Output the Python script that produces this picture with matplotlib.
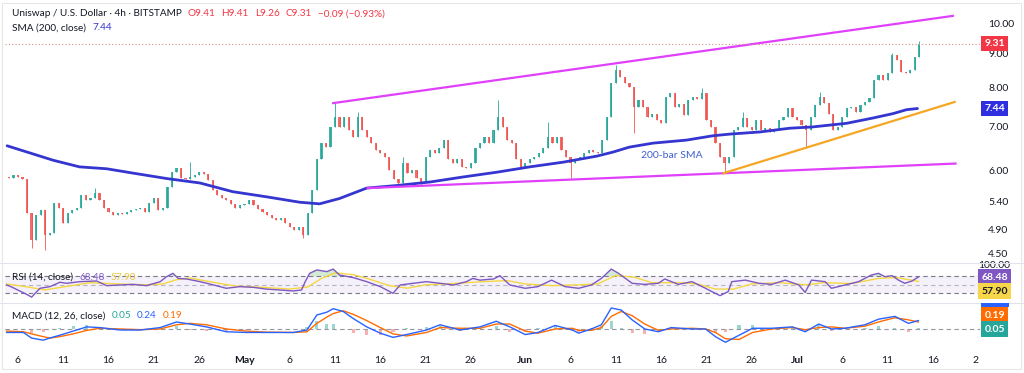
import numpy as np
import pandas as pd
import matplotlib
matplotlib.use("Agg")
import matplotlib.pyplot as plt
from matplotlib.patches import Rectangle
from matplotlib.lines import Line2D
from matplotlib.ticker import NullLocator, NullFormatter

plt.rcParams['font.family'] = ['Lato', 'DejaVu Sans']

# ---- data (4h UNI/USD chart, read by eye as 12h candles) ----
first_open = 5.88
closes = np.array([
    5.86, 5.91, 5.88, 5.84, 5.18, 4.72, 5.15, 5.24, 4.80, 4.84,
    5.36, 5.28, 5.00, 5.18, 5.24, 5.28, 5.52, 5.42, 5.45, 5.55,
    5.42, 5.28, 5.20, 5.15, 5.18, 5.17, 5.20, 5.24, 5.26, 5.28,
    5.20, 5.36, 5.45, 5.24, 5.28, 5.67, 5.98, 6.06, 5.86, 5.84,
    5.88, 5.91, 5.98, 5.93, 5.81, 5.62, 5.52, 5.45, 5.42, 5.35,
    5.28, 5.32, 5.35, 5.42, 5.32, 5.26, 5.20, 5.15, 5.09, 5.06,
    5.09, 5.00, 4.94, 4.89, 4.94, 4.80, 5.18, 5.61, 6.24, 6.60,
    6.52, 6.98, 7.22, 6.98, 7.22, 6.90, 6.74, 7.22, 6.90, 6.74,
    6.60, 6.45, 6.37, 6.30, 6.02, 5.84, 5.75, 6.17, 5.95, 6.02,
    5.86, 5.77, 6.30, 6.45, 6.37, 6.50, 6.67, 6.24, 6.17, 6.24,
    6.08, 6.05, 6.17, 6.50, 6.60, 6.74, 6.60, 6.90, 7.22, 6.98,
    6.67, 6.60, 6.24, 6.08, 6.17, 6.24, 6.30, 6.37, 6.50, 6.74,
    6.60, 6.74, 6.45, 6.30, 6.17, 6.24, 6.30, 6.37, 6.45, 6.40,
    6.37, 6.67, 7.22, 8.12, 8.50, 8.30, 8.12, 8.02, 7.48, 7.66,
    7.48, 7.22, 7.30, 7.15, 7.07, 7.74, 7.85, 7.48, 7.55, 7.27,
    7.66, 7.74, 7.70, 7.85, 7.15, 6.98, 6.60, 6.30, 6.17, 6.30,
    6.90, 6.98, 7.20, 6.98, 6.90, 7.15, 6.90, 6.95, 6.86, 6.94,
    7.15, 7.22, 7.45, 7.22, 7.15, 7.02, 6.90, 7.22, 7.53, 7.74,
    7.58, 7.30, 6.90, 6.98, 7.22, 7.45, 7.48, 7.35, 7.53, 7.62,
    7.72, 8.21, 8.35, 8.21, 8.41, 8.95, 8.80, 8.44, 8.41, 8.50,
    8.90, 9.31,
])
wick_highs = {19: 5.65, 40: 6.18, 72: 7.58, 77: 7.36, 87: 6.30, 108: 7.66,
              119: 7.10, 134: 8.65, 153: 8.00, 162: 7.36, 179: 7.89,
              195: 9.02, 201: 9.41}
wick_lows = {5: 4.60, 8: 4.56, 65: 4.76, 86: 5.70, 91: 5.72, 124: 5.85,
             138: 6.83, 158: 5.98, 176: 6.50}

# 200-bar SMA (day offsets from Apr 6)
sma_days = [-1.2, 1.0, 3.9, 6.8, 9.8, 12.7, 16.4, 20.1, 23.7, 27.5, 31.1, 33.3,
            35.5, 38.5, 41.8, 45.5, 49.1, 52.9, 56.5, 60.2, 63.9, 65.7, 67.5,
            70.1, 73.8, 76.7, 78.6, 81.9, 85.2, 87.7, 91.5, 94.4, 96.6, 98.1, 99.3]
sma_vals = [6.54, 6.40, 6.22, 6.08, 6.04, 5.95, 5.84, 5.75, 5.58, 5.48, 5.38, 5.35,
            5.45, 5.65, 5.70, 5.77, 5.87, 5.97, 6.08, 6.18, 6.31, 6.40, 6.51,
            6.60, 6.67, 6.77, 6.81, 6.86, 6.95, 6.98, 7.07, 7.20, 7.31, 7.41, 7.44]

# drawn trend lines (day, price)
upper_line = ([34.8, 103.2], [7.58, 10.25])
lower_line = ([38.6, 103.5], [5.65, 6.15])
support_line = ([77.9, 103.4], [5.95, 7.61])

# RSI
rsi_days = [-1.25, -0.78, 0.96, 1.51, 2.43, 3.53, 4.64, 5.37, 6.84, 8.68,
            9.79, 11.26, 12.7, 14.2, 15.7, 16.4, 17.1, 17.7, 18.6, 20.1,
            21.6, 23.0, 24.5, 26.0, 27.4, 28.9, 30.4, 31.3, 31.7, 32.2,
            33.0, 34.1, 34.8, 35.5, 37.0, 38.5, 40.0, 41.4, 42.2, 43.6,
            45.1, 46.6, 48.1, 49.5, 50.2, 51.0, 52.5, 53.2, 54.3, 56.0,
            57.4, 58.9, 60.4, 61.9, 63.3, 64.4, 65.5, 66.3, 67.8, 69.2,
            70.7, 71.4, 72.9, 74.4, 75.9, 76.6, 77.5, 78.4, 78.8, 80.3,
            81.8, 83.2, 84.7, 86.2, 86.9, 87.6, 89.1, 89.8, 91.3, 92.8,
            94.2, 95.0, 95.7, 96.5, 97.2, 97.9, 98.7, 99.4]
rsi_vals = [49.6, 45.7, 27.6, 21.0, 41.8, 45.7, 56.0, 53.5, 57.4, 59.0,
            48.0, 49.6, 51.0, 48.0, 57.4, 69.0, 77.0, 65.0, 63.7, 57.4,
            49.6, 41.8, 45.7, 44.0, 40.0, 37.8, 35.5, 37.8, 57.0, 77.0,
            85.0, 81.0, 87.0, 73.0, 67.0, 57.4, 45.7, 30.0, 49.6, 53.5,
            57.4, 53.5, 49.6, 57.4, 65.0, 61.0, 63.7, 71.5, 49.6, 41.8,
            45.7, 61.0, 45.7, 41.8, 49.6, 65.0, 87.0, 77.0, 53.5, 51.0,
            53.5, 63.7, 51.0, 57.4, 41.8, 34.0, 24.5, 34.0, 57.4, 61.0,
            53.5, 51.0, 61.0, 49.6, 32.0, 61.0, 57.4, 41.8, 49.6, 57.4,
            73.0, 77.0, 69.0, 71.5, 61.0, 53.5, 59.0, 68.48]
rsi_ma_days = [-1.25, 1, 3, 5, 8, 11, 14, 16, 17.5, 19,
               21, 24, 27, 30, 32, 33.5, 35, 37, 39, 41,
               43, 45, 48, 51, 54, 56, 59, 62, 64, 66,
               68, 70, 73, 75, 77, 79, 81, 84, 87, 89,
               92, 95, 97, 99.4]
rsi_ma_vals = [52, 45, 38, 45, 55, 52, 50, 52, 62, 66,
               58, 47, 44, 40, 45, 65, 78, 74, 62, 48,
               42, 50, 53, 57, 60, 52, 48, 50, 52, 72,
               68, 55, 55, 52, 40, 40, 52, 55, 50, 55,
               53, 65, 67, 57.9]

# MACD
macd_days = [-1.25, 0.6, 1.5, 2.8, 3.5, 4.6, 6.1, 7.6, 9.0, 11.3,
             13.5, 15.7, 17.5, 19.0, 20.8, 23.0, 25.2, 27.4, 30.4, 31.9,
             33.0, 34.1, 34.8, 35.9, 37.0, 38.5, 40.0, 41.4, 42.9, 45.1,
             46.6, 48.8, 51.0, 52.8, 54.3, 56.0, 57.4, 59.3, 61.2, 61.9,
             63.3, 64.4, 65.5, 66.6, 67.8, 69.2, 70.7, 72.1, 74.4, 75.9,
             77.0, 78.1, 79.6, 81.1, 83.2, 85.5, 86.9, 88.4, 89.8, 91.3,
             93.5, 95.0, 96.8, 98.3, 99.4]
macd_vals = [-0.05, -0.05, -0.13, -0.16, -0.13, -0.09, -0.03, 0.03, 0.02, -0.015,
             -0.015, 0.02, 0.10, 0.07, 0.03, -0.04, -0.05, -0.05, -0.05, -0.015,
             0.20, 0.24, 0.29, 0.25, 0.15, 0.03, -0.06, -0.12, -0.08, -0.015,
             0.06, -0.015, 0.03, 0.11, 0.03, -0.08, -0.05, 0.05, -0.015, -0.06,
             0.0, 0.06, 0.30, 0.27, 0.13, 0.0, -0.04, 0.02, 0.0, 0.0,
             -0.11, -0.19, -0.09, 0.01, 0.01, 0.03, -0.04, 0.07, 0.0, 0.01,
             0.06, 0.14, 0.18, 0.08, 0.12]
signal_vals = [-0.03, -0.04, -0.07, -0.11, -0.13, -0.11, -0.07, -0.02, 0.01, 0.0,
               -0.01, 0.0, 0.06, 0.08, 0.06, 0.0, -0.03, -0.045, -0.05, -0.04,
               0.08, 0.17, 0.22, 0.26, 0.21, 0.12, 0.02, -0.07, -0.10, -0.05,
               0.02, 0.01, 0.01, 0.07, 0.07, -0.03, -0.06, 0.0, 0.01, -0.02,
               -0.02, 0.02, 0.18, 0.25, 0.19, 0.07, -0.02, 0.0, 0.01, 0.0,
               -0.05, -0.14, -0.15, -0.05, 0.0, 0.02, -0.01, 0.02, 0.03, 0.01,
               0.04, 0.10, 0.16, 0.13, 0.10]

# x axis labels
start = pd.Timestamp('2024-04-06')
tick_dates = ['2024-04-06', '2024-04-11', '2024-04-16', '2024-04-21', '2024-04-26',
              '2024-05-01', '2024-05-06', '2024-05-11', '2024-05-16', '2024-05-21',
              '2024-05-26', '2024-06-01', '2024-06-06', '2024-06-11', '2024-06-16',
              '2024-06-21', '2024-06-26', '2024-07-01', '2024-07-06', '2024-07-11',
              '2024-07-16', '2024-07-21']
tick_labels = ['6', '11', '16', '21', '26', 'May', '6', '11', '16', '21', '26',
               'Jun', '6', '11', '16', '21', '26', 'Jul', '6', '11', '16', '21']
price_ticks = [4.5, 4.9, 5.4, 6.0, 7.0, 8.0, 9.0, 10.0]

# ---- figure ----
W, H = 1024, 373
fig = plt.figure(figsize=(W / 100, H / 100), dpi=100)
fig.patch.set_facecolor('white')
TXT = '#131722'
GRID = '#e0e3eb'


def rect(x0, y0, x1, y1):
    return [x0 / W, 1 - y1 / H, (x1 - x0) / W, (y1 - y0) / H]


def fx(px):
    return px / W


def fy(py):
    return 1 - py / H


ax = fig.add_axes(rect(5, 4, 980, 263))
ax_rsi = fig.add_axes(rect(5, 263, 980, 303), sharex=ax)
ax_macd = fig.add_axes(rect(5, 303, 980, 345), sharex=ax)

for a in (ax, ax_rsi, ax_macd):
    for s in a.spines.values():
        s.set_visible(False)
    a.tick_params(axis='both', length=0)
    a.set_yticks([])

ax.set_xlim(-1.43, 106.2)

# candles
n = len(closes)
cdays = -1 + 0.5 * np.arange(n)
opens = np.r_[first_open, closes[:-1]]
up = closes >= opens
ccol = np.where(up, '#26a69a', '#ef5350')
highs = np.maximum(opens, closes)
lows = np.minimum(opens, closes)
for i, v in wick_highs.items():
    highs[i] = v
for i, v in wick_lows.items():
    lows[i] = v
ax.vlines(cdays, lows, highs, colors=ccol, lw=0.7, alpha=0.85)
ax.bar(cdays, np.abs(closes - opens), bottom=np.minimum(opens, closes),
       width=0.24, color=ccol, linewidth=0, alpha=0.85)

ax.set_yscale('log')
ax.set_ylim(4.36, 10.68)
ax.yaxis.tick_right()
ax.yaxis.set_minor_locator(NullLocator())
ax.yaxis.set_minor_formatter(NullFormatter())
ax.set_yticks(price_ticks)
ax.set_yticklabels([f'{v:.2f}' for v in price_ticks])
ax.tick_params(axis='y', length=0, pad=6, labelsize=7.5, colors=TXT)
ax.tick_params(axis='x', labelbottom=False)

ax.plot(sma_days, sma_vals, color='#3535d0', lw=2.0, solid_capstyle='round')
ax.plot(*upper_line, color='#e040fb', lw=1.6)
ax.plot(*lower_line, color='#e040fb', lw=1.6)
ax.plot(*support_line, color='#f5a623', lw=1.6)
ax.text(72.2, 6.33, '200-bar SMA', color='#3f5fd0', fontsize=7.5,
        ha='center', va='center')

last = closes[-1]
ax.axhline(last, color='#d98c8c', lw=0.8, ls=(0, (1, 2)))
ytr = ax.get_yaxis_transform()
ax.text(1.015, last, f'{last:.2f}', transform=ytr, color='white', fontsize=7.5,
        fontweight='bold', ha='center', va='center', zorder=5,
        bbox=dict(boxstyle='square,pad=0.3', fc='#f23645', ec='none'))
ax.text(1.015, sma_vals[-1], f'{sma_vals[-1]:.2f}', transform=ytr, color='white',
        fontsize=7.5, fontweight='bold', ha='center', va='center', zorder=5,
        bbox=dict(boxstyle='square,pad=0.3', fc='#2f2fe0', ec='none'))

# RSI panel
ax_rsi.set_ylim(7.2, 101.3)
ax_rsi.axhspan(30, 70, color='#7e57c2', alpha=0.08, lw=0)
for lvl, al in ((70, 1.0), (50, 0.5), (30, 1.0)):
    ax_rsi.axhline(lvl, color='#787b86', lw=0.8, ls=(0, (4, 3)), alpha=al)
rsi_arr = np.array(rsi_vals)
ax_rsi.fill_between(rsi_days, 70, rsi_arr, where=rsi_arr > 70, interpolate=True,
                    color='#4caf50', alpha=0.25, lw=0)
ax_rsi.plot(rsi_ma_days, rsi_ma_vals, color='#f5d742', lw=1)
ax_rsi.plot(rsi_days, rsi_vals, color='#7e57c2', lw=1)
ax_rsi.tick_params(axis='x', labelbottom=False)
ax_rsi.text(1.015, 0.93, '100.00', transform=ax_rsi.transAxes, color=TXT,
            fontsize=7.5, ha='center', va='center')
ax_rsi.text(1.015, 0.65, f'{rsi_vals[-1]:.2f}', transform=ax_rsi.transAxes,
            color='white', fontsize=7.5, fontweight='bold', ha='center', va='center',
            bbox=dict(boxstyle='square,pad=0.3', fc='#7e57c2', ec='none'))
ax_rsi.text(1.015, 0.30, f'{rsi_ma_vals[-1]:.2f}', transform=ax_rsi.transAxes,
            color=TXT, fontsize=7.5, fontweight='bold', ha='center', va='center',
            bbox=dict(boxstyle='square,pad=0.3', fc='#f7d64a', ec='none'))

# MACD panel
ax_macd.set_ylim(-0.229, 0.371)
ax_macd.axhline(0, color='#9598a1', lw=0.8, ls=(0, (4, 3)))
hist = np.array(macd_vals) - np.array(signal_vals)
ax_macd.bar(macd_days, hist, width=0.35, color=np.where(hist >= 0, '#26a69a', '#ef5350'),
            alpha=0.45, linewidth=0)
ax_macd.plot(macd_days, signal_vals, color='#ff6d00', lw=1)
ax_macd.plot(macd_days, macd_vals, color='#2962ff', lw=1)
ax_macd.text(1.015, 0.714, '0.19', transform=ax_macd.transAxes, color='white',
             fontsize=7.5, fontweight='bold', ha='center', va='center',
             bbox=dict(boxstyle='square,pad=0.3', fc='#ff6d00', ec='none'))
ax_macd.text(1.015, 0.38, '0.05', transform=ax_macd.transAxes, color='white',
             fontsize=7.5, fontweight='bold', ha='center', va='center',
             bbox=dict(boxstyle='square,pad=0.3', fc='#26a69a', ec='none'))
fig.add_artist(Rectangle((fx(981), fy(307)), fx(28), 4 / H, transform=fig.transFigure,
                         fc='#2962ff', ec='none', zorder=6))

tick_pos = [(pd.Timestamp(d) - start).days for d in tick_dates]
ax_macd.set_xticks(tick_pos)
ax_macd.set_xticklabels(tick_labels)
ax_macd.tick_params(axis='x', length=0, pad=8, labelsize=7.5, colors=TXT)
for lab in ax_macd.get_xticklabels():
    if lab.get_text() in ('May', 'Jun', 'Jul'):
        lab.set_fontweight('bold')

# cover the part of the time axis under the price scale
fig.add_artist(Rectangle((fx(979), 0), fx(W - 979), (H - 346) / H,
                         transform=fig.transFigure, fc='white', ec='none', zorder=10))

# separators and frame
for yy in (263, 303):
    fig.add_artist(Line2D([0, 1], [fy(yy), fy(yy)], color=GRID, lw=0.8))
fig.add_artist(Rectangle((fx(2), fy(369)), fx(1019), 366 / H, transform=fig.transFigure,
                         fill=False, ec='#e6e6e6', lw=0.8, zorder=11))

# legends / headers: runs of text placed one after another
renderer = fig.canvas.get_renderer()


def text_run(px, py, parts, fs=7.2, gap=6):
    x = fx(px)
    for s, c in parts:
        t = fig.text(x, fy(py), s, color=c, fontsize=fs, va='center')
        bb = t.get_window_extent(renderer)
        x = (bb.x1 + gap) / W


red = '#f23645'
text_run(12, 14, [('Uniswap / U.S. Dollar · 4h · BITSTAMP', TXT), ('O9.41', red),
                  ('H9.41', red), ('L9.26', red), ('C9.31', red),
                  ('−0.09 (−0.93%)', red)])
text_run(12, 28, [('SMA (200, close)', TXT), ('7.44', '#3535d0')])
text_run(12, 277, [('RSI (14, close)', TXT), ('68.48', '#7e57c2'), ('57.90', '#e8c53a')])
text_run(12, 316, [('MACD (12, 26, close)', TXT), ('0.05', '#26a69a'),
                   ('0.24', '#2962ff'), ('0.19', '#ff6d00')])

fig.savefig('out.png', dpi=100)
